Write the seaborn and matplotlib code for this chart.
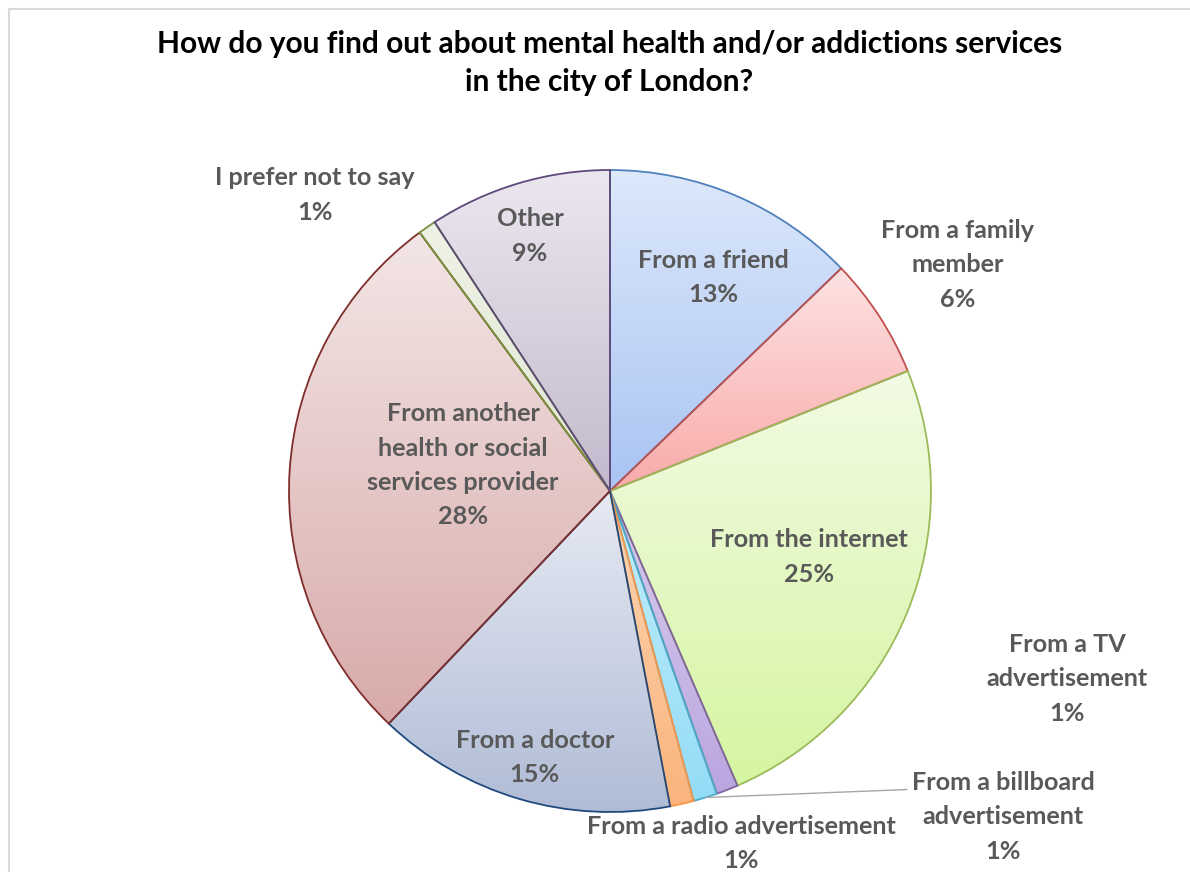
import matplotlib
matplotlib.use('Agg')
import matplotlib.pyplot as plt
from matplotlib.colors import LinearSegmentedColormap
from matplotlib.lines import Line2D
import seaborn as sns
import numpy as np

# data (clockwise from 12 o'clock)
labels = ['From a friend', 'From a family\nmember', 'From the internet',
          'From a TV\nadvertisement', 'From a billboard\nadvertisement',
          'From a radio advertisement', 'From a doctor',
          'From another\nhealth or social\nservices provider',
          'I prefer not to say', 'Other']
values = [12.8, 6.1, 24.6, 1.1, 1.2, 1.2, 15.1, 27.8, 0.9, 9.2]

# gradient top / bottom and edge colour per slice (Excel style)
tops = ['#dde8fb', '#fde2e2', '#f2fbe4', '#d9cdee', '#c3effc',
        '#fdd6b5', '#e6eaf3', '#f3e6e6', '#eef2e6', '#ebe7ef']
bottoms = ['#a9c4f3', '#f9aaa9', '#d5f5a1', '#bba6e0', '#93dcf6',
           '#fbb47c', '#b0bcd6', '#d8aaa9', '#dfe8d2', '#c3b9cd']
edges = ['#4f81bd', '#c0504d', '#9bbb59', '#8064a2', '#4bacc6',
         '#f79646', '#1f497d', '#7f2d2b', '#76923c', '#5f497a']

# label centres, in pie-radius units from the centre
label_pos = [(0.321, 0.665), (1.084, 0.705), (0.620, -0.205),
             (1.424, -0.585), (1.224, -1.015), (0.408, -1.098),
             (-0.234, -0.830), (-0.458, 0.080), (-0.919, 0.922),
             (-0.249, 0.795)]

sns.set_theme(style="white")
plt.rcParams['font.family'] = ['Lato', 'DejaVu Sans']

W, H = 1190, 872
CX, CY, R = 610, 491, 321
fig = plt.figure(figsize=(W / 100, H / 100), dpi=100)
fig.patch.set_facecolor('white')
ax = fig.add_axes([0, 0, 1, 1])

wedges, _ = ax.pie(values, startangle=90, counterclock=False,
                   radius=1, center=(0, 0),
                   wedgeprops=dict(linewidth=1.3))

for w, top, bot, ec in zip(wedges, tops, bottoms, edges):
    w.set_facecolor('none')
    w.set_edgecolor(ec)
    w.set_zorder(3)
    ext = w.get_path().get_extents()
    cmap = LinearSegmentedColormap.from_list('g', [top, bot])
    grad = np.linspace(0, 1, 256).reshape(-1, 1)
    im = ax.imshow(grad, cmap=cmap, aspect='auto', origin='upper',
                   extent=(ext.x0, ext.x1, ext.y0, ext.y1), zorder=2,
                   interpolation='bilinear')
    im.set_clip_path(w)

ax.set_xlim(-CX / R, (W - CX) / R)
ax.set_ylim(-(H - CY) / R, CY / R)
ax.set_aspect('auto')
ax.axis('off')

# data labels
pct = [f"{round(v):.0f}%" for v in values]
for lab, p, (x, y) in zip(labels, pct, label_pos):
    ax.text(x, y, f"{lab}\n{p}", ha='center', va='center',
            fontsize=18.2, fontweight='bold', color='#595959',
            linespacing=1.6, zorder=5)

# leader line for the billboard slice
cum = np.cumsum([0] + values)
mid = (cum[4] + cum[5]) / 2 / cum[-1] * 2 * np.pi
sx, sy = np.sin(mid), np.cos(mid)
ax.plot([sx, 0.925], [sy, -0.93], color='#a6a6a6', lw=1, zorder=4)

fig.text(0.512, 1 - 63 / H,
         'How do you find out about mental health and/or addictions services\n'
         'in the city of London?', ha='center', va='center', fontsize=21.5,
         fontweight='bold', color='black', linespacing=1.42)

# chart-area border (top and left edges visible)
fig.add_artist(Line2D([9 / W, 1], [1 - 9 / H, 1 - 9 / H], color='#d9d9d9', lw=1.5))
fig.add_artist(Line2D([9 / W, 9 / W], [0, 1 - 9 / H], color='#d9d9d9', lw=1.5))

fig.savefig('out.png', dpi=100, facecolor='white')
